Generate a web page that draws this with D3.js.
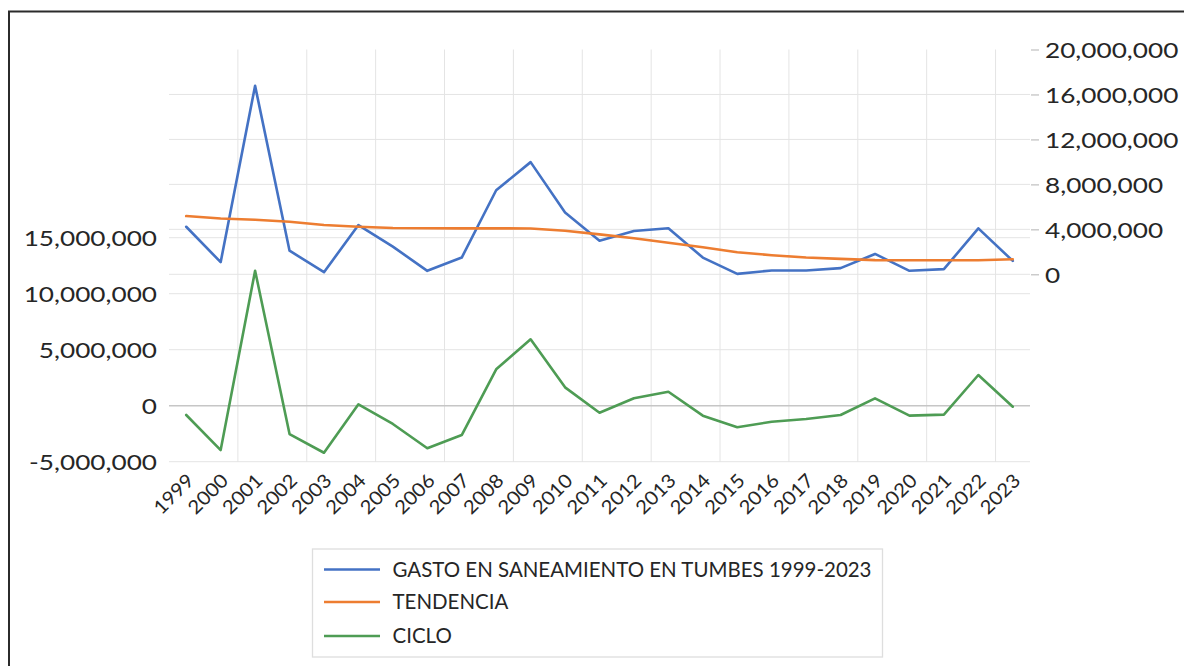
<!DOCTYPE html>
<html>
<head>
<meta charset="utf-8">
<script src="https://cdn.jsdelivr.net/npm/d3@7"></script>
<style>
  html, body { margin: 0; padding: 0; background: #fff; }
  svg { display: block; }
  text { font-family: Lato, "Open Sans", sans-serif; fill: #262626; }
</style>
</head>
<body>
<svg id="chart" width="1184" height="666"></svg>
<script>
// ---- DATA ----
const years = ["1999","2000","2001","2002","2003","2004","2005","2006","2007","2008","2009","2010","2011","2012","2013","2014","2015","2016","2017","2018","2019","2020","2021","2022","2023"];
const gasto = [4230000, 1080000, 16770000, 2100000, 190000, 4380000, 2460000, 310000, 1490000, 7480000, 9980000, 5500000, 2990000, 3850000, 4090000, 1490000, 40000, 340000, 340000, 550000, 1810000, 310000, 460000, 4090000, 1190000];
const tendencia = [5180000, 4970000, 4850000, 4670000, 4380000, 4230000, 4120000, 4100000, 4090000, 4090000, 4080000, 3880000, 3550000, 3200000, 2810000, 2400000, 1960000, 1700000, 1490000, 1370000, 1260000, 1250000, 1250000, 1250000, 1340000];
const ciclo = [-830000, -3960000, 12050000, -2530000, -4200000, 120000, -1630000, -3800000, -2620000, 3250000, 5930000, 1640000, -630000, 660000, 1250000, -890000, -1930000, -1430000, -1190000, -830000, 660000, -890000, -800000, 2740000, -90000];
const leftTicks = [-5000000, 0, 5000000, 10000000, 15000000];
const rightTicks = [0, 4000000, 8000000, 12000000, 16000000, 20000000];
const seriesNames = ["GASTO EN SANEAMIENTO EN TUMBES 1999-2023", "TENDENCIA", "CICLO"];
const seriesColors = ["#4472C4", "#ED7D31", "#4E9C54"];

// ---- LAYOUT ----
const svg = d3.select("#chart");
const plot = { left: 169, right: 1030, top: 49.5, bottom: 462 };
const axisStretch = 1.19;

const x = d3.scaleBand().domain(years).range([plot.left, plot.right]).padding(0);
const cx = d => x(d) + x.bandwidth() / 2;
const yR = d3.scaleLinear().domain([0, 20000000]).range([274.3, 49.5]);
const yL = d3.scaleLinear().domain([-5000000, 15000000]).range([461.7, 237.7]);
const fmt = d => d3.format(",")(d).replace("\u2212", "-");

function stretch(sel, k) {
  sel.each(function() {
    const len = this.getComputedTextLength();
    d3.select(this).attr("textLength", len * k).attr("lengthAdjust", "spacingAndGlyphs");
  });
}

svg.append("rect").attr("width", 1184).attr("height", 666).attr("fill", "#fff");
// outer frame (right/bottom sides fall outside the picture)
svg.append("rect").attr("x", 9).attr("y", 11.5).attr("width", 1300).attr("height", 800)
  .attr("fill", "none").attr("stroke", "#2b2b2b").attr("stroke-width", 2);

// ---- GRIDLINES ----
const grid = svg.append("g");
years.forEach((yv, i) => {
  if (i % 2 === 1) {
    const gx = x(yv) + x.bandwidth();
    grid.append("line").attr("x1", gx).attr("x2", gx).attr("y1", plot.top).attr("y2", plot.bottom)
      .attr("stroke", "#e4e4e4").attr("stroke-width", 1);
  }
});
leftTicks.filter(t => t !== 0).forEach(t => {
  grid.append("line").attr("x1", plot.left).attr("x2", plot.right).attr("y1", yL(t)).attr("y2", yL(t))
    .attr("stroke", "#e4e4e4").attr("stroke-width", 1);
});
rightTicks.filter(t => t !== 20000000).forEach(t => {
  grid.append("line").attr("x1", plot.left).attr("x2", plot.right).attr("y1", yR(t)).attr("y2", yR(t))
    .attr("stroke", "#e4e4e4").attr("stroke-width", 1);
});
grid.append("line").attr("x1", plot.left).attr("x2", plot.right).attr("y1", yL(0)).attr("y2", yL(0))
  .attr("stroke", "#c6c6c6").attr("stroke-width", 1.5);

// ---- AXES ----
const gL = svg.append("g").attr("transform", `translate(${plot.left - 12},0)`)
  .call(d3.axisLeft(yL).tickValues(leftTicks).tickFormat(fmt).tickSize(0).tickPadding(0));
gL.select(".domain").remove();
gL.selectAll("text").attr("font-size", 22).attr("font-family", "Lato").attr("fill", "#262626").attr("dy", "0.36em").call(stretch, axisStretch);

const gR = svg.append("g").attr("transform", `translate(${plot.right + 1},0)`)
  .call(d3.axisRight(yR).tickValues(rightTicks).tickFormat(fmt).tickSize(8).tickPadding(6));
gR.select(".domain").remove();
gR.selectAll(".tick line").attr("stroke", "#bfbfbf").attr("stroke-width", 1.2);
gR.selectAll("text").attr("font-size", 22).attr("font-family", "Lato").attr("fill", "#262626").attr("dy", "0.36em").call(stretch, axisStretch);

const gX = svg.append("g").attr("transform", `translate(0,478)`)
  .call(d3.axisBottom(x).tickSize(0).tickPadding(0));
gX.select(".domain").remove();
gX.selectAll("text").attr("font-size", 19).attr("font-family", "Lato").attr("fill", "#262626")
  .attr("y", 0).attr("x", 0).attr("dy", "0.36em").attr("text-anchor", "end")
  .attr("transform", "translate(4,-1) rotate(-45)").call(stretch, 1.08);

// ---- LINES ----
const lineR = d3.line().x((d, i) => cx(years[i])).y(d => yR(d));
const lineL = d3.line().x((d, i) => cx(years[i])).y(d => yL(d));
const lines = svg.append("g").attr("fill", "none").attr("stroke-width", 2.6).attr("stroke-linejoin", "round").attr("stroke-linecap", "round");
lines.append("path").datum(gasto).attr("d", lineR).attr("stroke", seriesColors[0]);
lines.append("path").datum(tendencia).attr("d", lineR).attr("stroke", seriesColors[1]);
lines.append("path").datum(ciclo).attr("d", lineL).attr("stroke", seriesColors[2]);

// ---- LEGEND ----
const lg = svg.append("g");
lg.append("rect").attr("x", 312.5).attr("y", 549).attr("width", 570).attr("height", 108)
  .attr("fill", "#fff").attr("stroke", "#dedede").attr("stroke-width", 1.3);
const rowY = [569.5, 602, 636];
const legendTexts = [];
seriesNames.forEach((name, i) => {
  lg.append("line").attr("x1", 324).attr("x2", 380).attr("y1", rowY[i]).attr("y2", rowY[i])
    .attr("stroke", seriesColors[i]).attr("stroke-width", 2.6);
  legendTexts.push(lg.append("text").attr("x", 392.5).attr("y", rowY[i]).attr("dy", "0.36em")
    .attr("font-size", 20.5).attr("font-family", "Lato").attr("fill", "#262626").text(name));
});
const legendK = 479 / legendTexts[0].node().getComputedTextLength();
legendTexts.forEach(t => t.call(stretch, legendK));
</script>
</body>
</html>
